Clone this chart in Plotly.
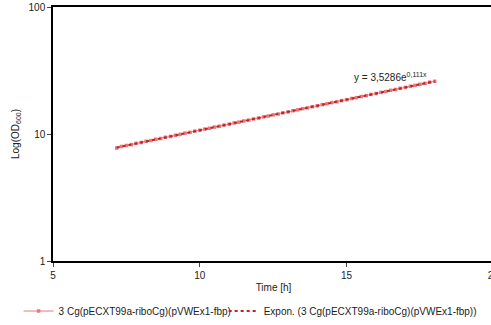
import plotly.graph_objects as go

time_h = [7.17, 7.33, 7.50, 7.67, 7.83, 8.00, 8.17, 8.33, 8.50, 8.67, 8.83, 9.00,
          9.17, 9.33, 9.50, 9.67, 9.83, 10.00, 10.17, 10.33, 10.50, 10.67, 10.83, 11.00,
          11.17, 11.33, 11.50, 11.67, 11.83, 12.00, 12.17, 12.33, 12.50, 12.67, 12.83, 13.00,
          13.17, 13.33, 13.50, 13.67, 13.83, 14.00, 14.17, 14.33, 14.50, 14.67, 14.83, 15.00,
          15.17, 15.33, 15.50, 15.67, 15.83, 16.00, 16.17, 16.33, 16.50, 16.67, 16.83, 17.00,
          17.17, 17.33, 17.50, 17.67, 17.83, 18.00]
od600 = [7.75, 7.98, 8.12, 8.25, 8.44, 8.57, 8.76, 8.88, 9.09, 9.22, 9.43, 9.57,
         9.78, 9.93, 10.15, 10.30, 10.53, 10.70, 10.93, 11.09, 11.34, 11.52, 11.76, 11.95,
         12.21, 12.40, 12.67, 12.86, 13.14, 13.35, 13.64, 13.85, 14.15, 14.37, 14.69, 14.92,
         15.24, 15.48, 15.82, 16.06, 16.41, 16.66, 17.03, 17.29, 17.67, 17.94, 18.34, 18.62,
         19.03, 19.32, 19.74, 20.05, 20.49, 20.81, 21.26, 21.60, 22.06, 22.41, 22.89, 23.26,
         23.75, 24.14, 24.65, 25.05, 25.58, 26.00]

trend_x = [7.17, 18.00]
trend_y = [7.82, 26.02]

series_name = "3 Cg(pECXT99a-riboCg)(pVWEx1-fbp)"
trend_name = "Expon. (3 Cg(pECXT99a-riboCg)(pVWEx1-fbp))"
equation = "y = 3,5286e<sup>0,111x</sup>"

x_ticks = [5, 10, 15, 20]
y_ticks = [1, 10, 100]

font = "Liberation Sans, Arial, sans-serif"

fig = go.Figure()
fig.add_trace(go.Scatter(
    x=time_h, y=od600, name=series_name, mode="lines+markers",
    line=dict(color="#e87878", width=1),
    marker=dict(symbol="square", size=3.5, color="#e87878"),
    legend="legend",
))
fig.add_trace(go.Scatter(
    x=trend_x, y=trend_y, name=trend_name, mode="lines",
    line=dict(color="#c41e24", width=2, dash="dot"),
    legend="legend2",
))

fig.add_annotation(x=15.2, y=1.449, xref="x", yref="y", text=equation,
                   showarrow=False, xanchor="left", yanchor="middle",
                   font=dict(size=10, color="#222", family=font))

leg_common = dict(orientation="h", yanchor="middle", y=-0.197, xanchor="left",
                  font=dict(size=10, family=font, color="#222"),
                  bgcolor="rgba(0,0,0,0)", borderwidth=0, itemwidth=30)

fig.update_layout(
    width=494, height=325,
    margin=dict(l=53, r=0, t=7, b=64, autoexpand=False),
    paper_bgcolor="white", plot_bgcolor="white",
    font=dict(family=font, size=10, color="#222"),
    showlegend=True,
    legend=dict(leg_common, x=-0.078),
    legend2=dict(leg_common, x=0.387),
    xaxis=dict(range=[5, 20.02], tickvals=x_ticks, ticks="outside", ticklen=4,
               ticklabeloverflow="allow",
               showline=True, linecolor="black", linewidth=1.5, mirror=True,
               showgrid=False, zeroline=False,
               title=dict(text="Time [h]", standoff=4, font=dict(size=10))),
    yaxis=dict(type="log", range=[0, 2], tickvals=y_ticks, ticktext=["1", "10", "100"],
               ticks="outside", ticklen=4,
               showline=True, linecolor="black", linewidth=1.5, mirror=True,
               showgrid=False, zeroline=False,
               title=dict(text="Log(OD<sub>600</sub>)", standoff=7, font=dict(size=10))),
)

fig.write_html("out.html")
